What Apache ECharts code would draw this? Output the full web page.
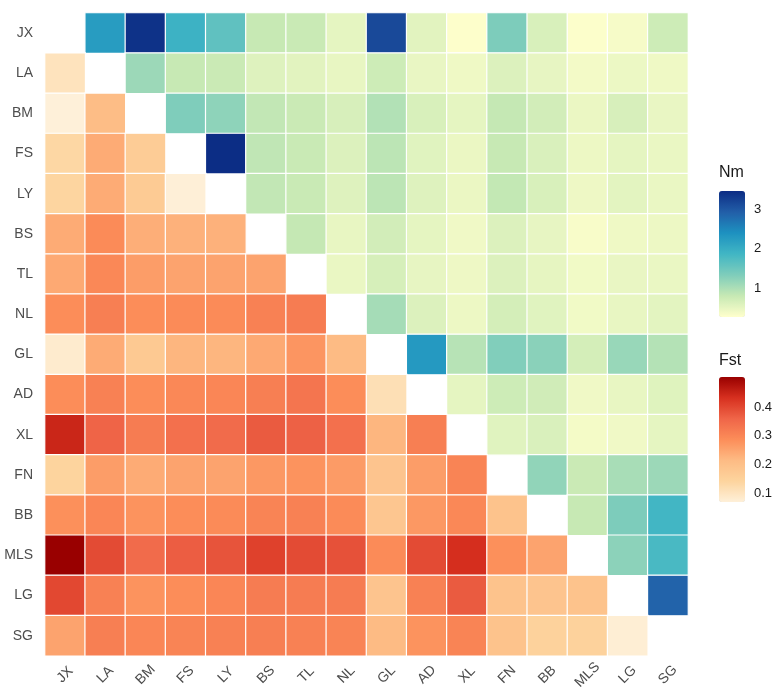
<!DOCTYPE html>
<html>
<head>
<meta charset="utf-8">
<script src="https://cdn.jsdelivr.net/npm/echarts@6/dist/echarts.min.js"></script>
<style>
html,body{margin:0;padding:0;background:#fff;}
#chart{width:776px;height:692px;}
</style>
</head>
<body>
<div id="chart"></div>
<script>
const populations = ['JX','LA','BM','FS','LY','BS','TL','NL','GL','AD','XL','FN','BB','MLS','LG','SG'];

// Nm (upper triangle): row i holds columns i+1 .. 15
const nmUpper = [
  [2.24, 3.40, 1.92, 1.60, 0.80, 0.78, 0.52, 3.15, 0.55, 0.29, 1.35, 0.64, 0.30, 0.36, 0.74],
  [1.12, 0.80, 0.77, 0.58, 0.55, 0.49, 0.74, 0.48, 0.42, 0.60, 0.50, 0.38, 0.45, 0.42],
  [1.33, 1.22, 0.84, 0.77, 0.65, 0.96, 0.64, 0.52, 0.82, 0.70, 0.46, 0.65, 0.48],
  [3.45, 0.85, 0.78, 0.60, 0.88, 0.56, 0.46, 0.80, 0.63, 0.44, 0.52, 0.47],
  [0.84, 0.78, 0.58, 0.88, 0.58, 0.46, 0.83, 0.64, 0.43, 0.54, 0.47],
  [0.82, 0.49, 0.70, 0.52, 0.41, 0.60, 0.50, 0.34, 0.42, 0.44],
  [0.47, 0.66, 0.50, 0.43, 0.60, 0.51, 0.40, 0.48, 0.47],
  [1.05, 0.60, 0.44, 0.68, 0.56, 0.40, 0.49, 0.54],
  [2.28, 0.92, 1.32, 1.25, 0.68, 1.15, 0.94],
  [0.52, 0.74, 0.72, 0.41, 0.49, 0.57],
  [0.56, 0.63, 0.37, 0.41, 0.52],
  [1.20, 0.77, 1.03, 1.12],
  [0.80, 1.35, 1.86],
  [1.24, 1.80],
  [2.88]
];

// Fst (lower triangle): row for population i (i = 1..15) holds columns 0 .. i-1
const fstLower = [
  [0.104],
  [0.069, 0.209],
  [0.134, 0.239, 0.165],
  [0.139, 0.239, 0.169, 0.072],
  [0.239, 0.291, 0.235, 0.230, 0.230],
  [0.243, 0.296, 0.261, 0.252, 0.252, 0.252],
  [0.287, 0.313, 0.287, 0.291, 0.291, 0.309, 0.318],
  [0.082, 0.239, 0.174, 0.222, 0.222, 0.243, 0.274, 0.213],
  [0.287, 0.309, 0.287, 0.296, 0.300, 0.313, 0.331, 0.287, 0.113],
  [0.448, 0.361, 0.318, 0.339, 0.348, 0.374, 0.365, 0.339, 0.222, 0.313],
  [0.143, 0.261, 0.239, 0.252, 0.252, 0.270, 0.278, 0.265, 0.187, 0.261, 0.304],
  [0.283, 0.300, 0.278, 0.287, 0.291, 0.304, 0.309, 0.291, 0.182, 0.270, 0.296, 0.191],
  [0.505, 0.396, 0.348, 0.370, 0.383, 0.409, 0.396, 0.387, 0.291, 0.396, 0.435, 0.283, 0.252],
  [0.400, 0.309, 0.278, 0.287, 0.300, 0.318, 0.318, 0.318, 0.187, 0.309, 0.374, 0.191, 0.187, 0.191],
  [0.252, 0.313, 0.300, 0.304, 0.309, 0.313, 0.309, 0.304, 0.213, 0.278, 0.304, 0.191, 0.147, 0.147, 0.075]
];

const nmRange = [0.27, 3.46];
const fstRange = [0.069, 0.505];
const nmTicks = [1, 2, 3];
const fstTicks = [0.1, 0.2, 0.3, 0.4];

const ylGnBu = ['#FFFFCC','#C7E9B4','#7FCDBB','#41B6C4','#1D91C0','#225EA8','#0C2C84'];
const orRd = ['#FEF0D9','#FDD49E','#FDBB84','#FC8D59','#EF6548','#D7301F','#990000'];

const nmData = [];
nmUpper.forEach((row, i) => row.forEach((v, k) => nmData.push([i + 1 + k, i, v])));
const fstData = [];
fstLower.forEach((row, r) => row.forEach((v, j) => fstData.push([j, r + 1, v])));

const FONT = 'Liberation Sans, Arial, Helvetica, sans-serif';

function legendAxis(gridIndex, range, ticks, fmt) {
  return {
    gridIndex: gridIndex, type: 'value', min: range[0], max: range[1], position: 'right', z: 10,
    axisLine: {show: false}, splitLine: {show: false}, axisTick: {show: false},
    axisLabel: {show: true, customValues: ticks, margin: 9, fontSize: 13, color: '#1a1a1a', fontFamily: FONT, formatter: fmt}
  };
}

const chart = echarts.init(document.getElementById('chart'), null, {renderer: 'canvas'});
chart.setOption({
  animation: false,
  backgroundColor: '#ffffff',
  textStyle: {fontFamily: FONT},
  grid: [
    {left: 45, top: 13, width: 643, height: 643},
    {left: 719, top: 191, width: 26, height: 126},
    {left: 719, top: 377, width: 26, height: 125}
  ],
  xAxis: [
    {gridIndex: 0, type: 'category', data: populations,
     axisLine: {show: false}, axisTick: {show: false}, splitLine: {show: false},
     axisLabel: {interval: 0, rotate: 45, fontSize: 14, color: '#4d4d4d', fontFamily: FONT,
                 align: 'center', verticalAlign: 'middle', margin: 19}},
    {gridIndex: 1, type: 'value', show: false},
    {gridIndex: 2, type: 'value', show: false}
  ],
  yAxis: [
    {gridIndex: 0, type: 'category', data: populations, inverse: true,
     axisLine: {show: false}, axisTick: {show: false}, splitLine: {show: false},
     axisLabel: {interval: 0, fontSize: 14, color: '#4d4d4d', fontFamily: FONT, margin: 12}},
    legendAxis(1, nmRange, nmTicks, v => String(v)),
    legendAxis(2, fstRange, fstTicks, v => v.toFixed(1))
  ],
  visualMap: [
    {type: 'continuous', seriesIndex: 0, min: nmRange[0], max: nmRange[1],
     left: 719, top: 191, itemWidth: 26, itemHeight: 126, padding: 0,
     calculable: false, hoverLink: false, inRange: {color: ylGnBu}},
    {type: 'continuous', seriesIndex: 1, min: fstRange[0], max: fstRange[1],
     left: 719, top: 377, itemWidth: 26, itemHeight: 125, padding: 0,
     calculable: false, hoverLink: false, inRange: {color: orRd}}
  ],
  graphic: [
    {type: 'text', left: 719, top: 165, style: {text: 'Nm', fontSize: 16, fill: '#1a1a1a', fontFamily: FONT}},
    {type: 'text', left: 719, top: 353, style: {text: 'Fst', fontSize: 16, fill: '#1a1a1a', fontFamily: FONT}}
  ],
  series: [
    {name: 'Nm', type: 'heatmap', xAxisIndex: 0, yAxisIndex: 0, data: nmData,
     itemStyle: {borderColor: '#ffffff', borderWidth: 1.2}, emphasis: {disabled: true}},
    {name: 'Fst', type: 'heatmap', xAxisIndex: 0, yAxisIndex: 0, data: fstData,
     itemStyle: {borderColor: '#ffffff', borderWidth: 1.2}, emphasis: {disabled: true}}
  ]
});
</script>
</body>
</html>
